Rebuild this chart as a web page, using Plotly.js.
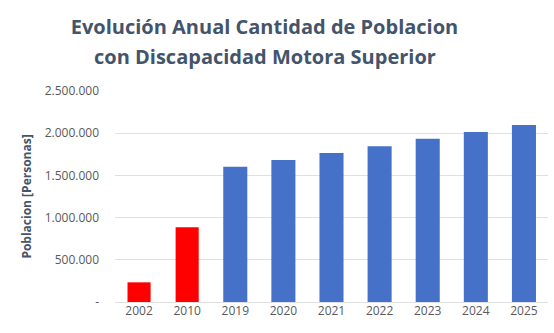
<!DOCTYPE html>
<html>
<head>
<meta charset="utf-8">
<script src="https://cdn.plot.ly/plotly-3.0.1.min.js"></script>
<style>html,body{margin:0;padding:0;background:#fff;}#chart{width:554px;height:333px;}</style>
</head>
<body>
<div id="chart"></div>
<script>
const censusYears = ['2002', '2010'];
const censusValues = [233000, 885000];
const projectionYears = ['2019', '2020', '2021', '2022', '2023', '2024', '2025'];
const projectionValues = [1603000, 1682000, 1765000, 1845000, 1935000, 2014000, 2097000];
const yTickValues = [0, 500000, 1000000, 1500000, 2000000, 2500000];
const yTickLabels = ['-', '500.000', '1.000.000', '1.500.000', '2.000.000', '2.500.000'];
const titleLine1 = 'Evolución Anual Cantidad de Poblacion';
const titleLine2 = 'con Discapacidad Motora Superior';

const allYears = censusYears.concat(projectionYears);

const traces = [
  {type: 'bar', x: censusYears, y: censusValues, marker: {color: '#ff0000'}, width: 0.48, hoverinfo: 'x+y'},
  {type: 'bar', x: projectionYears, y: projectionValues, marker: {color: '#4571c9'}, width: 0.5, hoverinfo: 'x+y'}
];

const titleFont = {family: 'Open Sans', size: 20, color: '#44546a', weight: 'bold'};

const layout = {
  width: 554, height: 333,
  margin: {l: 115, r: 6, t: 91, b: 31},
  paper_bgcolor: '#ffffff', plot_bgcolor: '#ffffff',
  showlegend: false,
  barmode: 'overlay',
  title: {
    text: titleLine1,
    font: titleFont,
    xref: 'container', x: 264.5 / 554, xanchor: 'center', yref: 'container', y: 1 - 27 / 333, yanchor: 'middle'
  },
  annotations: [{
    text: titleLine2, font: titleFont, showarrow: false,
    xref: 'paper', x: (264.5 - 115) / 433, xanchor: 'center', yref: 'paper', y: 1 + 34 / 211, yanchor: 'middle'
  }],
  xaxis: {
    type: 'category', categoryorder: 'array', categoryarray: allYears,
    showgrid: false, showline: false, zeroline: false, ticks: '',
    tickfont: {family: 'Open Sans', size: 12, color: '#595959'}
  },
  yaxis: {
    range: [0, 2500000], tickvals: yTickValues, ticktext: yTickLabels,
    showgrid: true, gridcolor: '#e0e0e0', gridwidth: 1, zeroline: true, zerolinecolor: '#e0e0e0',
    showline: false, ticks: '', ticklen: 0, ticklabelstandoff: 15,
    tickfont: {family: 'Open Sans', size: 12, color: '#595959'},
    title: {text: 'Poblacion [Personas]', font: {family: 'Open Sans', size: 12, color: '#44546a', weight: 'bold'}, standoff: 10}
  }
};

Plotly.newPlot('chart', traces, layout, {displayModeBar: false, staticPlot: true});
</script>
</body>
</html>
